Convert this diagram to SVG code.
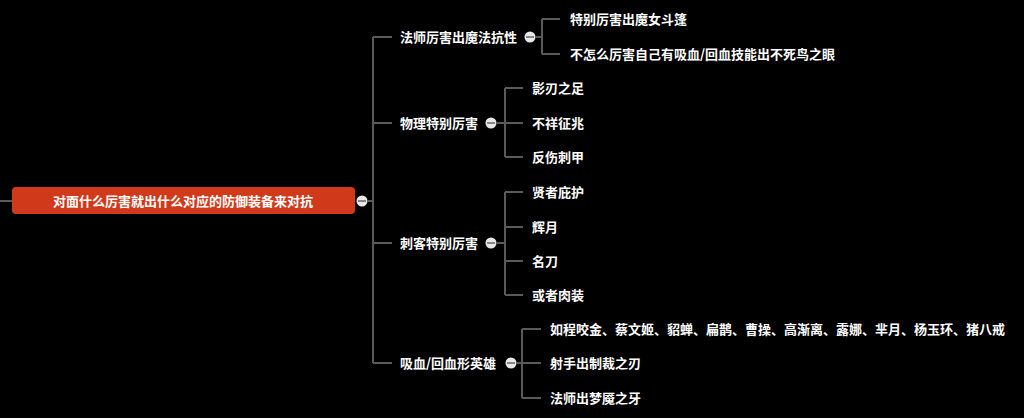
<svg xmlns="http://www.w3.org/2000/svg" width="1024" height="418" viewBox="0 0 1024 418">
<style>
.l{fill:none;stroke:#5a5a5a;stroke-width:2}
.t{font-family:"Noto Sans CJK SC","Liberation Sans",sans-serif;font-size:13px;font-weight:bold;fill:#fff}
.c{fill:#e8e8e8}
.m{stroke:#666;stroke-width:1.5}
</style>
<rect width="1024" height="418" fill="#000"/>
<g id="connectors">
<path class="l" d="M0 201H12M368 201H373M373 37V363M373 37H392M373 123H392M373 243H392M373 363H392"/>
<path class="l" d="M536 37H542M542 19V54M542 19H560M542 54H560"/>
<path class="l" d="M497 123H505M505 88V157M505 88H523M505 123H523M505 157H523"/>
<path class="l" d="M497 243H505M505 192V295M505 192H523M505 227H523M505 261H523M505 295H523"/>
<path class="l" d="M517 363H522M522 329V398M522 329H541M522 363H541M522 398H541"/>
</g>
<g id="root"><rect x="12" y="187" width="343" height="27" rx="4" fill="#d03a1b"/><text class="t" x="183" y="206" text-anchor="middle" font-size="16">对面什么厉害就出什么对应的防御装备来对抗</text><circle class="c" cx="362" cy="201" r="5.5"/><path class="m" d="M358 201H366"/></g>
<g id="n1"><text class="t" x="400" y="42">法师厉害出魔法抗性</text><circle class="c" cx="530" cy="37" r="5.5"/><path class="m" d="M526 37H534"/></g>
<g id="n1a"><text class="t" x="570" y="24">特别厉害出魔女斗篷</text></g>
<g id="n1b"><text class="t" x="570" y="59">不怎么厉害自己有吸血/回血技能出不死鸟之眼</text></g>
<g id="n2"><text class="t" x="400" y="128">物理特别厉害</text><circle class="c" cx="491" cy="123" r="5.5"/><path class="m" d="M487 123H495"/></g>
<g id="n2a"><text class="t" x="532" y="93">影刃之足</text></g>
<g id="n2b"><text class="t" x="532" y="128">不祥征兆</text></g>
<g id="n2c"><text class="t" x="532" y="162">反伤刺甲</text></g>
<g id="n3"><text class="t" x="400" y="248">刺客特别厉害</text><circle class="c" cx="491" cy="243" r="5.5"/><path class="m" d="M487 243H495"/></g>
<g id="n3a"><text class="t" x="532" y="197">贤者庇护</text></g>
<g id="n3b"><text class="t" x="532" y="232">辉月</text></g>
<g id="n3c"><text class="t" x="532" y="266">名刀</text></g>
<g id="n3d"><text class="t" x="532" y="300">或者肉装</text></g>
<g id="n4"><text class="t" x="400" y="368">吸血/回血形英雄</text><circle class="c" cx="511" cy="363" r="5.5"/><path class="m" d="M507 363H515"/></g>
<g id="n4a"><text class="t" x="550" y="334">如程咬金、蔡文姬、貂蝉、扁鹊、曹操、高渐离、露娜、芈月、杨玉环、猪八戒</text></g>
<g id="n4b"><text class="t" x="550" y="368">射手出制裁之刃</text></g>
<g id="n4c"><text class="t" x="550" y="403">法师出梦魇之牙</text></g>
</svg>
